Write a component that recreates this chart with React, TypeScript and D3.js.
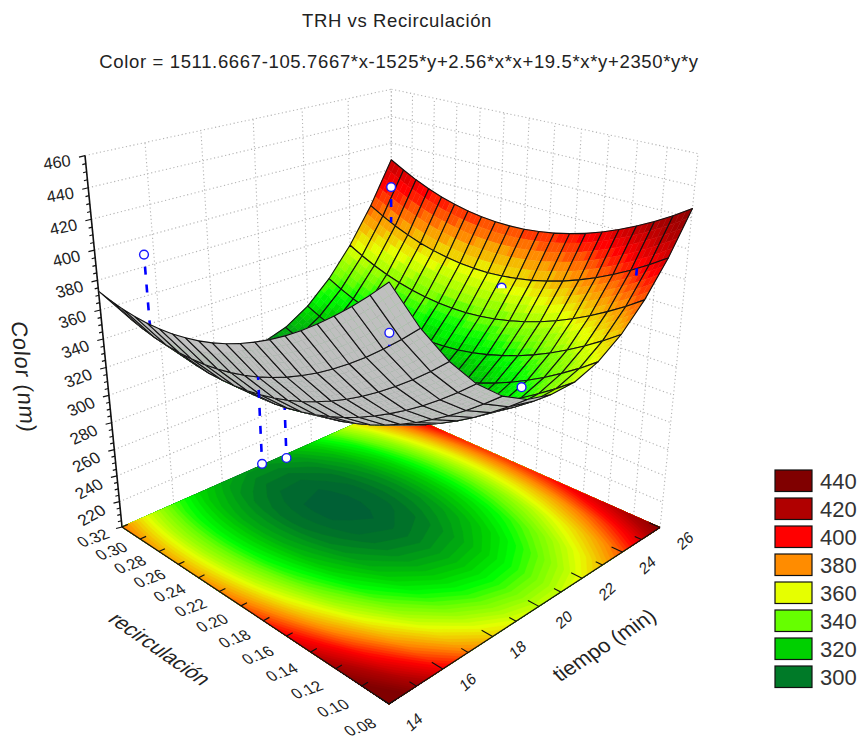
import React from "react";
import * as d3 from "d3";

const W = 865, H = 739;
const chartTitle = "TRH vs Recirculación";
const chartSubtitle = "Color = 1511.6667-105.7667*x-1525*y+2.56*x*x+19.5*x*y+2350*y*y";

// surface values read per tiempo (14..26 min), recirculación 0.08 .. 0.32 in 20 steps
const tiempoValues = [14, 15, 16, 17, 18, 19, 20, 21, 22, 23, 24, 25, 26];
const recircValues = [0.08, 0.092, 0.104, 0.116, 0.128, 0.14, 0.152, 0.164, 0.176, 0.188, 0.2, 0.212, 0.224, 0.236, 0.248, 0.26, 0.272, 0.284, 0.296, 0.308, 0.32];
const colorT14 = [447.6, 437.4, 427.9, 419.1, 411.0, 403.5, 396.7, 390.6, 385.2, 380.4, 376.3, 372.9, 370.2, 368.2, 366.8, 366.1, 366.1, 366.7, 368.1, 370.1, 372.8];
const colorT15 = [417.6, 407.7, 398.4, 389.8, 381.9, 374.7, 368.1, 362.3, 357.1, 352.6, 348.7, 345.5, 343.0, 341.2, 340.1, 339.6, 339.8, 340.7, 342.3, 344.6, 347.5];
const colorT16 = [392.8, 383.0, 374.0, 365.7, 358.0, 351.0, 344.7, 339.1, 334.1, 329.8, 326.2, 323.3, 321.0, 319.4, 318.5, 318.3, 318.7, 319.9, 321.7, 324.2, 327.3];
const colorT17 = [373.0, 363.5, 354.8, 346.6, 339.2, 332.5, 326.4, 321.0, 316.2, 312.2, 308.8, 306.1, 304.1, 302.7, 302.1, 302.1, 302.7, 304.1, 306.2, 308.9, 312.3];
const colorT18 = [358.4, 349.2, 340.6, 332.7, 325.6, 319.0, 313.1, 308.0, 303.5, 299.7, 296.5, 294.1, 292.3, 291.2, 290.7, 291.0, 291.9, 293.5, 295.8, 298.7, 302.3];
const colorT19 = [348.9, 339.9, 331.6, 323.9, 317.0, 310.7, 305.1, 300.2, 295.9, 292.3, 289.4, 287.1, 285.6, 284.7, 284.5, 285.0, 286.1, 288.0, 290.5, 293.7, 297.5];
const colorT20 = [344.6, 335.8, 327.7, 320.3, 313.6, 307.5, 302.1, 297.4, 293.4, 290.1, 287.4, 285.3, 284.0, 283.4, 283.4, 284.1, 285.5, 287.6, 290.3, 293.8, 297.8];
const colorT21 = [345.3, 336.7, 328.9, 321.7, 315.3, 309.4, 304.2, 299.8, 296.0, 292.9, 290.4, 288.7, 287.6, 287.2, 287.5, 288.4, 290.0, 292.3, 295.3, 299.0, 303.3];
const colorT22 = [351.2, 342.8, 335.3, 328.3, 322.1, 316.5, 311.5, 307.3, 303.7, 300.9, 298.7, 297.1, 296.3, 296.1, 296.6, 297.8, 299.6, 302.2, 305.4, 309.3, 313.8];
const colorT23 = [362.2, 354.1, 346.7, 340.0, 334.0, 328.6, 323.9, 320.0, 316.6, 314.0, 312.0, 310.7, 310.1, 310.1, 310.9, 312.3, 314.3, 317.1, 320.6, 324.7, 329.5];
const colorT24 = [378.3, 370.4, 363.3, 356.8, 351.1, 345.9, 341.4, 337.7, 334.6, 332.2, 330.4, 329.3, 329.0, 329.3, 330.3, 331.9, 334.2, 337.2, 340.9, 345.3, 350.3];
const colorT25 = [399.5, 391.9, 385.0, 378.7, 373.2, 368.3, 364.0, 360.6, 357.7, 355.6, 354.0, 353.1, 353.0, 353.5, 354.8, 356.6, 359.1, 362.4, 366.3, 371.0, 376.2];
const colorT26 = [425.9, 418.4, 411.8, 405.8, 400.5, 395.8, 391.8, 388.6, 385.9, 384.0, 382.7, 382.1, 382.2, 382.9, 384.4, 386.5, 389.2, 392.8, 396.9, 401.8, 407.2];
const surfaceRows = [colorT14, colorT15, colorT16, colorT17, colorT18, colorT19, colorT20, colorT21, colorT22, colorT23, colorT24, colorT25, colorT26];

// observed points
const obsTiempo = [15, 25, 25, 25, 15, 20, 15, 20];
const obsRecirc = [0.3, 0.3, 0.2, 0.1, 0.1, 0.1, 0.2, 0.3];
const obsColor = [397, 395, 345.5, 370, 408.7, 342, 291.3, 212];
const obsBehind = [true, false, false, false, false, false, false, true];
const obsMarker = ["full", "full", "half", "none", "full", "full", "full", "full"];
const obsLineFrom = [0, 0, 0, 0.72, 0, 0, 0, 0];
const obsLineTo = [1, 1, 1, 1.0, 1, 0.6, 1, 1];

// ticks
const zMajor = d3.range(220, 461, 20);
const zMinor = d3.range(200, 461, 5);
const tiempoTicks = [14, 16, 18, 20, 22, 24, 26];
const recircTicks = [0.32, 0.3, 0.28, 0.26, 0.24, 0.22, 0.2, 0.18, 0.16, 0.14, 0.12, 0.1, 0.08];

// colours
const stopValues = [280, 290, 310, 320, 330, 350, 370, 390, 410, 430];
const stopColors = ["#00553c", "#007328", "#00d000", "#00ff00", "#66ff00", "#e6ff00", "#ff8c00", "#ff0000", "#b00000", "#800000"];
const legendValues = [440, 420, 400, 380, 360, 340, 320, 300];
const legendColors = ["#800000", "#b00000", "#ff0000", "#ff8c00", "#e6ff00", "#66ff00", "#00d000", "#007a28"];
const undersideColor = "#bfbfbf";

const colorScale = d3.scaleLinear<string>().domain(stopValues).range(stopColors).interpolate(d3.interpolateRgb).clamp(true);

const uScale = d3.scaleLinear().domain([14, 26]).range([0, 1]);
const vScale = d3.scaleLinear().domain([0.08, 0.32]).range([0, 1]);
const wScale = d3.scaleLinear().domain([200, 460]).range([0, 1]);

type P = [number, number];
function project(x: number, y: number, z: number): P {
  const u = uScale(x), v = vScale(y), w = wScale(z);
  const den = 0.2374 * u + 0.2448 * v + 1 - 0.1519 * w;
  return [
    (427.7 * u - 237.1 * v + 389 - 59 * w) / den,
    (-51.3 * u - 48 * v + 704 - 486 * w) / den,
  ];
}

function surfaceAt(x: number, y: number): number {
  const fi = Math.max(0, Math.min(tiempoValues.length - 1.0001, x - tiempoValues[0]));
  const fj = Math.max(0, Math.min(recircValues.length - 1.0001, (y - recircValues[0]) / (recircValues[1] - recircValues[0])));
  const i = Math.floor(fi), j = Math.floor(fj), a = fi - i, b = fj - j;
  return (
    surfaceRows[i][j] * (1 - a) * (1 - b) +
    surfaceRows[i + 1][j] * a * (1 - b) +
    surfaceRows[i][j + 1] * (1 - a) * b +
    surfaceRows[i + 1][j + 1] * a * b
  );
}

const lineGen = d3.line<P>();
const quadPath = (pts: P[]) => lineGen(pts) + "Z";
const area2 = (p: P[]) => {
  let s = 0;
  for (let k = 0; k < p.length; k++) {
    const q = p[(k + 1) % p.length];
    s += p[k][0] * q[1] - q[0] * p[k][1];
  }
  return s;
};

function floorBands() {
  const nj = recircValues.length, ni = tiempoValues.length;
  const flat = surfaceRows.flat();
  const thresholds = d3.range(276, 452, 3);
  const gen = d3.contours().size([nj, ni]).thresholds(thresholds);
  const dj = recircValues[1] - recircValues[0];
  const out: React.ReactNode[] = [];
  const corners: P[] = [project(14, 0.08, 200), project(26, 0.08, 200), project(26, 0.32, 200), project(14, 0.32, 200)];
  out.push(<path key="floor-base" d={quadPath(corners)} fill={colorScale(280)} />);
  gen(flat).forEach((c, idx) => {
    let d = "";
    c.coordinates.forEach((poly) =>
      poly.forEach((ring) => {
        const pts = ring.map(([cx, cy]) => {
          const j = Math.max(0, Math.min(nj - 1, cx - 0.5));
          const i = Math.max(0, Math.min(ni - 1, cy - 0.5));
          return project(14 + i, 0.08 + j * dj, 200);
        });
        d += quadPath(pts as P[]);
      })
    );
    if (d) out.push(<path key={"b" + idx} d={d} fill={colorScale(c.value + 1.5)} fillRule="evenodd" stroke={colorScale(c.value + 1.5)} strokeWidth={0.3} />);
  });
  return out;
}

function surfaceCells() {
  const out: React.ReactNode[] = [];
  const ni = tiempoValues.length, nj = recircValues.length;
  const subI = 5, subJ = 3;
  for (let i = ni - 2; i >= 0; i--) {
    for (let j = nj - 2; j >= 0; j--) {
      const x0 = tiempoValues[i], x1 = tiempoValues[i + 1];
      const y0 = recircValues[j], y1 = recircValues[j + 1];
      const z00 = surfaceRows[i][j], z10 = surfaceRows[i + 1][j], z01 = surfaceRows[i][j + 1], z11 = surfaceRows[i + 1][j + 1];
      const at = (a: number, b: number): P =>
        project(x0 + (x1 - x0) * a, y0 + (y1 - y0) * b, z00 * (1 - a) * (1 - b) + z10 * a * (1 - b) + z01 * (1 - a) * b + z11 * a * b);
      for (let a = subI - 1; a >= 0; a--) {
        for (let b = subJ - 1; b >= 0; b--) {
          const a0 = a / subI, a1 = (a + 1) / subI, b0 = b / subJ, b1 = (b + 1) / subJ;
          const quad = [at(a0, b0), at(a1, b0), at(a1, b1), at(a0, b1)];
          const ma = (a0 + a1) / 2, mb = (b0 + b1) / 2;
          const zm = z00 * (1 - ma) * (1 - mb) + z10 * ma * (1 - mb) + z01 * (1 - ma) * mb + z11 * ma * mb;
          const top = area2(quad) < 0;
          const fill = top ? colorScale(Math.floor(zm / 4) * 4 + 2) : undersideColor;
          out.push(<path key={`q${i}-${j}-${a}-${b}`} d={quadPath(quad)} fill={fill} stroke={fill} strokeWidth={0.5} />);
        }
      }
      const cell = [at(0, 0), at(1, 0), at(1, 1), at(0, 1)];
      out.push(<path key={`c${i}-${j}`} d={quadPath(cell)} fill="none" stroke="#111" strokeWidth={1.1} strokeLinejoin="round" />);
    }
  }
  return out;
}

function wallGrid() {
  const out: React.ReactNode[] = [];
  const dotted = { stroke: "#b4b4b4", strokeWidth: 1.1, strokeDasharray: "1.2 2.6", fill: "none" } as const;
  const seg = (k: string, a: P, b: P) => <line key={k} x1={a[0]} y1={a[1]} x2={b[0]} y2={b[1]} {...dotted} />;
  [200, ...zMajor].forEach((z) => {
    out.push(seg("l" + z, project(14, 0.32, z), project(26, 0.32, z)));
    out.push(seg("r" + z, project(26, 0.32, z), project(26, 0.08, z)));
  });
  tiempoTicks.forEach((t) => out.push(seg("vt" + t, project(t, 0.32, 200), project(t, 0.32, 460))));
  recircTicks.forEach((r) => out.push(seg("vr" + r, project(26, r, 200), project(26, r, 460))));
  return out;
}

function axes() {
  const out: React.ReactNode[] = [];
  const ink = "#111";
  const a0 = project(14, 0.32, 200), a1 = project(14, 0.32, 460);
  out.push(<line key="zaxis" x1={a0[0]} y1={a0[1]} x2={a1[0]} y2={a1[1]} stroke={ink} strokeWidth={1.6} />);
  zMinor.forEach((z) => {
    const p = project(14, 0.32, z);
    const major = z % 20 === 0;
    out.push(<line key={"zt" + z} x1={p[0]} y1={p[1]} x2={p[0] + (major ? 6 : 3.5)} y2={p[1] - (major ? 1.5 : 1)} transform={`rotate(180 ${p[0]} ${p[1]})`} stroke={ink} strokeWidth={1.2} />);
  });
  zMajor.forEach((z) => {
    const p = project(14, 0.32, z);
    const f = wScale(z);
    const dy = 13.5 - 7 * (z - 220) / 240;
    const rot = -29 + 21 * (z - 220) / 240;
    out.push(
      <text key={"zl" + z} transform={`translate(${p[0] - 28},${p[1] + dy}) rotate(${rot}) skewX(${10 * (1 - f)})`} textAnchor="middle" dy="0.35em" fontFamily="Liberation Sans" fontSize={16.5} fill="#222">{z}</text>
    );
  });
  // recirculación axis
  const r0 = project(14, 0.32, 200), r1 = project(14, 0.08, 200);
  out.push(<line key="raxis" x1={r0[0]} y1={r0[1]} x2={r1[0]} y2={r1[1]} stroke={ink} strokeWidth={1.3} />);
  recircTicks.forEach((r) => {
    const p = project(14, r, 200), q = project(14.22, r, 200);
    out.push(<line key={"rt" + r} x1={p[0]} y1={p[1]} x2={q[0]} y2={q[1]} stroke={ink} strokeWidth={1.2} />);
    const v = vScale(r);
    out.push(
      <text key={"rl" + r} transform={`translate(${p[0] - 29},${p[1] + 23 - 12 * v}) rotate(-20) skewX(20)`} textAnchor="middle" dy="0.35em" fontFamily="Liberation Sans" fontSize={15.5} fill="#222">{r.toFixed(2)}</text>
    );
  });
  // tiempo axis
  const t0 = project(14, 0.08, 200), t1 = project(26, 0.08, 200);
  out.push(<line key="taxis" x1={t0[0]} y1={t0[1]} x2={t1[0]} y2={t1[1]} stroke={ink} strokeWidth={1.3} />);
  d3.range(14, 27).forEach((t) => {
    const p = project(t, 0.08, 200), q = project(t, t % 2 === 0 ? 0.088 : 0.085, 200);
    out.push(<line key={"tt" + t} x1={p[0]} y1={p[1]} x2={q[0]} y2={q[1]} stroke={ink} strokeWidth={1.1} />);
  });
  tiempoTicks.forEach((t) => {
    const p = project(t, 0.08, 200);
    out.push(
      <text key={"tl" + t} transform={`translate(${p[0] + 25},${p[1] + (t === 14 ? 18 : 13)}) rotate(-42) skewX(-8)`} textAnchor="middle" dy="0.35em" fontFamily="Liberation Sans" fontSize={15.5} fill="#222">{t}</text>
    );
  });
  return out;
}

function observations(behind: boolean) {
  const out: React.ReactNode[] = [];
  obsTiempo.forEach((t, k) => {
    if (obsBehind[k] !== behind) return;
    const r = obsRecirc[k];
    const a = project(t, r, obsColor[k]);
    const b = project(t, r, surfaceAt(t, r));
    const s0: P = [a[0] + (b[0] - a[0]) * obsLineFrom[k], a[1] + (b[1] - a[1]) * obsLineFrom[k]];
    const s1: P = [a[0] + (b[0] - a[0]) * obsLineTo[k], a[1] + (b[1] - a[1]) * obsLineTo[k]];
    const solid = obsMarker[k] === "none";
    out.push(
      <line key={"ol" + k} x1={s0[0]} y1={s0[1]} x2={s1[0]} y2={s1[1]} stroke="#0000ff" strokeWidth={2.6} strokeDasharray={solid ? undefined : "8 10"} strokeDashoffset={6} />
    );
    if (obsMarker[k] === "none") return;
    const clipId = "half" + k;
    if (obsMarker[k] === "half") {
      out.push(
        <clipPath key={"oc" + k} id={clipId}>
          <rect x={a[0] - 8} y={a[1] - 8} width={16} height={8.5} />
        </clipPath>
      );
    }
    out.push(
      <circle key={"om" + k} cx={a[0]} cy={a[1]} r={4.4} fill="#fff" stroke="#1a1aff" strokeWidth={1.4} clipPath={obsMarker[k] === "half" ? `url(#${clipId})` : undefined} />
    );
  });
  return out;
}

function legend() {
  const ys = d3.scaleLinear().domain([0, legendValues.length - 1]).range([470, 666]);
  return legendValues.map((v, k) => (
    <g key={"lg" + v}>
      <rect x={775} y={ys(k)} width={37} height={21.5} fill={legendColors[k]} stroke="#111" strokeWidth={1.2} />
      <text x={820} y={ys(k) + 19} fontFamily="Liberation Sans" fontSize={22} fill="#333">{v}</text>
    </g>
  ));
}

export default function App() {
  return (
    <svg width={W} height={H} viewBox={`0 0 ${W} ${H}`} style={{ position: "absolute", left: 0, top: 0, background: "#fff" }}>
      <text x={397} y={27} textAnchor="middle" fontFamily="Liberation Sans" fontSize={18.5} letterSpacing={0.6} fill="#222">{chartTitle}</text>
      <text x={399} y={68} textAnchor="middle" fontFamily="Liberation Sans" fontSize={18.5} letterSpacing={0.65} fill="#222">{chartSubtitle}</text>
      <g>{wallGrid()}</g>
      <g>{floorBands()}</g>
      <g>{axes()}</g>
      <g>{observations(true)}</g>
      <g>{surfaceCells()}</g>
      <g>{observations(false)}</g>
      <text transform="translate(24,377) rotate(85) skewX(-8)" textAnchor="middle" dy="0.35em" fontFamily="Liberation Sans" fontSize={22} letterSpacing={0.8} fill="#222">Color (nm)</text>
      <text transform="translate(160,649) rotate(35) skewX(-20)" textAnchor="middle" dy="0.35em" fontFamily="Liberation Sans" fontSize={20.5} fill="#222">recirculación</text>
      <text transform="translate(604,645) rotate(-33) skewX(8)" textAnchor="middle" dy="0.35em" fontFamily="Liberation Sans" fontSize={21} fill="#222">tiempo (min)</text>
      <g>{legend()}</g>
    </svg>
  );
}
